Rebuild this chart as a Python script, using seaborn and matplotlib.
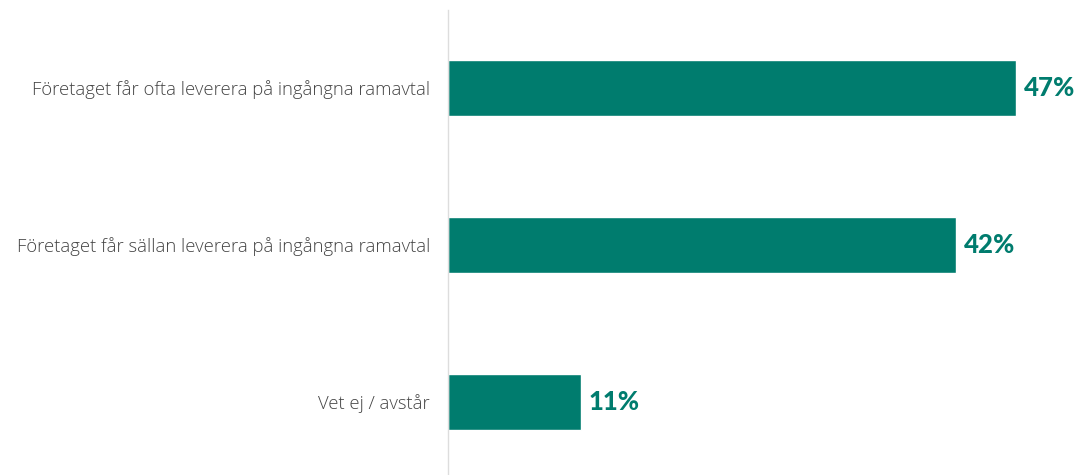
import matplotlib
matplotlib.use("Agg")
import matplotlib.pyplot as plt
import seaborn as sns
import pandas as pd

categories = [
    "Företaget får ofta leverera på ingångna ramavtal",
    "Företaget får sällan leverera på ingångna ramavtal",
    "Vet ej / avstår",
]
values = [47, 42, 11]
value_labels = ["47%", "42%", "11%"]

BAR_COLOR = "#007C6E"
TEXT_COLOR = "#444444"

sns.set_theme(style="white")
plt.rcParams["font.family"] = ["Open Sans", "DejaVu Sans"]

df = pd.DataFrame({"category": categories, "value": values})

W, H = 1082, 475
fig = plt.figure(figsize=(W / 100, H / 100), dpi=100)
ax = fig.add_axes([448 / W, 0, (W - 448) / W, (H - 10) / H])

sns.barplot(data=df, x="value", y="category", color=BAR_COLOR,
            saturation=1, width=0.357, ax=ax)

ax.set_xlim(0, 634 / 12.09)
ax.set_ylim(2.465, -0.497)

for i, (v, lab) in enumerate(zip(values, value_labels)):
    ax.text(v + 0.65, i, lab, va="center", ha="left", fontsize=18.5,
            fontweight="black", color=BAR_COLOR, family=["Lato", "DejaVu Sans"])

ax.set_xlabel("")
ax.set_ylabel("")
ax.set_xticks([])
ax.tick_params(axis="y", length=0, pad=13, labelsize=13.3, labelcolor=TEXT_COLOR)
for lbl in ax.get_yticklabels():
    lbl.set_fontweight("light")

for side in ["top", "right", "bottom"]:
    ax.spines[side].set_visible(False)
ax.spines["left"].set_color("#dddddd")
ax.spines["left"].set_linewidth(1)

fig.savefig("out.png", dpi=100)
